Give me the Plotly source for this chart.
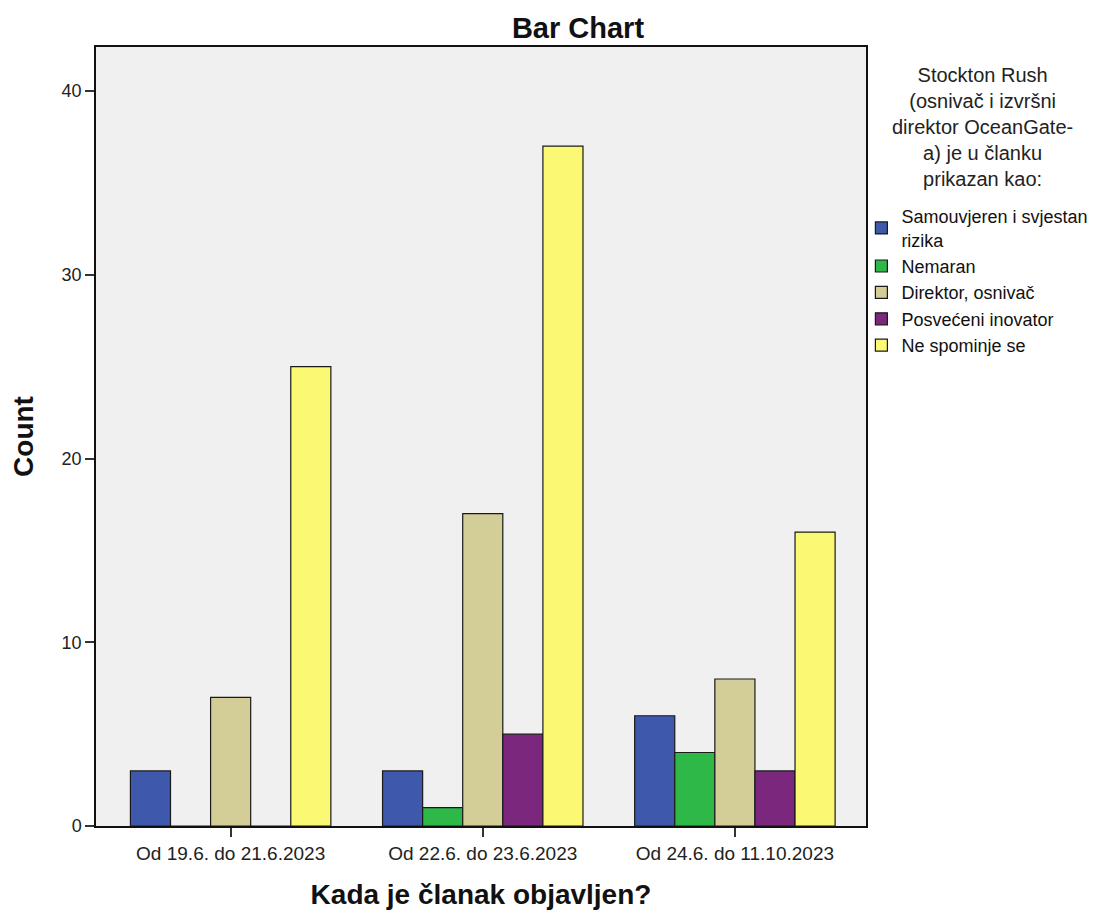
import plotly.graph_objects as go

categories = ["Od 19.6. do 21.6.2023", "Od 22.6. do 23.6.2023", "Od 24.6. do 11.10.2023"]
series_names = ["Samouvjeren i svjestan<br>rizika", "Nemaran", "Direktor, osnivač",
                "Posvećeni inovator", "Ne spominje se"]
samouvjeren = [3, 3, 6]
nemaran = [0, 1, 4]
direktor = [7, 17, 8]
posveceni = [0, 5, 3]
ne_spominje = [25, 37, 16]
series_values = [samouvjeren, nemaran, direktor, posveceni, ne_spominje]
colors = ["#3E58AC", "#2EB848", "#D3CE97", "#7B277D", "#FBF873"]
y_ticks = [0, 10, 20, 30, 40]

FONT = "Liberation Sans, Arial, sans-serif"

fig = go.Figure()
for name, vals, col in zip(series_names, series_values, colors):
    fig.add_trace(go.Bar(
        x=categories, y=vals, name=name,
        marker=dict(color=col, line=dict(color="#1a1a1a", width=1.2)),
    ))

fig.update_layout(
    width=1117, height=911,
    barmode="group", bargap=0.205, bargroupgap=0,
    paper_bgcolor="white", plot_bgcolor="#F0F0F0",
    margin=dict(l=84, r=259, t=39, b=93),
    font=dict(family=FONT, color="#222"),
    title=dict(text="<b>Bar Chart</b>", x=570/1117, xanchor="center",
               y=1 - 20/911, yanchor="middle", font=dict(size=29, color="#111")),
    showlegend=True,
    legend=dict(x=0.994, xanchor="left", y=1 - (198 - 47) / 779, yanchor="top",
                font=dict(size=18, color="#111"), tracegroupgap=0,
                itemwidth=30, bgcolor="rgba(0,0,0,0)", traceorder="normal"),
)

fig.update_xaxes(
    range=[-0.534, 2.52], showgrid=False, showline=True, linecolor="#111",
    linewidth=1.5, mirror=True, ticks="outside", ticklen=9, tickwidth=1.5,
    tickcolor="#333", tickfont=dict(size=19, color="#222"),
    title=dict(text="<b>Kada je članak objavljen?</b>", font=dict(size=28, color="#111"),
               standoff=22),
)
fig.update_yaxes(
    range=[0, 42.4], tickvals=y_ticks, showgrid=False, showline=True, linecolor="#111",
    linewidth=1.5, mirror=True, ticks="outside", ticklen=9, tickwidth=1.5,
    tickcolor="#333", tickfont=dict(size=18, color="#222"), zeroline=False,
    title=dict(text="<b>Count</b>", font=dict(size=28, color="#111"), standoff=22),
)

fig.add_annotation(
    text="Stockton Rush<br>(osnivač i izvršni<br>direktor OceanGate-<br>a) je u članku<br>prikazan kao:",
    xref="paper", yref="paper", x=(983 - 92) / 774, y=1 - (62 - 47) / 779,
    xanchor="center", yanchor="top", showarrow=False, align="center",
    font=dict(size=20, color="#222"),
)

fig.write_html("out.html")
